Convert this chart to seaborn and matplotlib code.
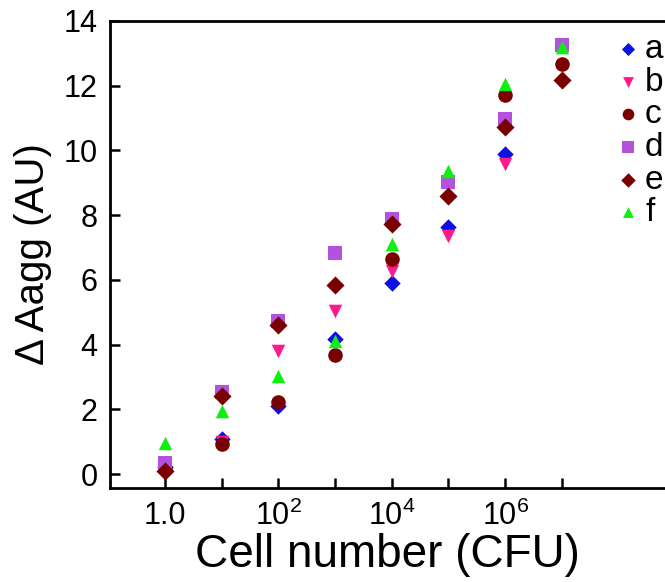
import numpy as np
import pandas as pd
import matplotlib
matplotlib.use("Agg")
import matplotlib.pyplot as plt
import seaborn as sns

# Data (x = cell number, CFU)
cells = [1e0, 1e1, 1e2, 1e3, 1e4, 1e5, 1e6, 1e7]
series_names = ["a", "b", "c", "d", "e", "f"]
a_vals = [0.22, 1.08, 2.09, 4.18, 5.91, 7.62, 9.89, np.nan]
b_vals = [0.05, 1.00, 3.79, 5.03, 6.27, 7.36, 9.58, np.nan]
c_vals = [0.18, 0.92, 2.24, 3.67, 6.64, np.nan, 11.70, 12.66]
d_vals = [0.33, 2.55, 4.72, 6.84, 7.88, 9.03, 10.98, 13.25]
e_vals = [0.10, 2.40, 4.62, 5.84, 7.72, 8.60, 10.72, 12.19]
f_vals = [0.97, 1.95, 3.02, 4.10, 7.10, 9.37, 12.06, 13.20]

colors = ["#0a10e6", "#ff1a8c", "#7a0000", "#b452e0", "#7a0000", "#10f010"]
markers = ["D", "v", "o", "s", "D", "^"]

values = [a_vals, b_vals, c_vals, d_vals, e_vals, f_vals]
rows = []
for name, vals in zip(series_names, values):
    for x, y in zip(cells, vals):
        if not np.isnan(y):
            rows.append({"cells": x, "aagg": y, "series": name})
df = pd.DataFrame(rows)

sns.set_style("ticks")
plt.rcParams["font.family"] = ["Liberation Sans", "DejaVu Sans"]
plt.rcParams["mathtext.fontset"] = "custom"
plt.rcParams["mathtext.rm"] = "Liberation Sans"
plt.rcParams["mathtext.it"] = "Liberation Sans"
for key in ["text.color", "axes.labelcolor", "xtick.color", "ytick.color", "axes.edgecolor"]:
    plt.rcParams[key] = "black"

fig = plt.figure(figsize=(6.65, 5.82), dpi=100)
ax = fig.add_axes([0.1654, 0.1615, 0.8346, 0.8025])

sizes = {"a": 70, "b": 95, "c": 110, "d": 110, "e": 85, "f": 95}
for name, col, mk in zip(series_names, colors, markers):
    sub = df[df["series"] == name]
    sns.scatterplot(
        data=sub, x="cells", y="aagg",
        color=col, marker=mk, s=sizes[name],
        linewidth=0, label=name, ax=ax
    )

ax.set_xscale("log")
ax.set_xlim(10 ** -0.97, 10 ** 8.82)
ax.set_ylim(-0.43, 14.0)

ax.set_xticks(cells)
ax.set_xticklabels(["1.0", "", "$10^2$", "", "$10^4$", "", "$10^6$", ""])
ax.xaxis.set_minor_locator(matplotlib.ticker.NullLocator())
ax.set_yticks(range(0, 15, 2))

ax.tick_params(direction="in", length=7, width=1.8, labelsize=22, pad=9)
for side in ["left", "bottom", "top"]:
    ax.spines[side].set_linewidth(2.0)
ax.spines["right"].set_visible(False)

ax.set_xlabel("Cell number (CFU)", fontsize=33, labelpad=1)
ax.set_ylabel("Δ Aagg (AU)", fontsize=29, labelpad=8)

ax.legend(
    loc="upper left", bbox_to_anchor=(0.889, 1.008), frameon=False,
    fontsize=24, handlelength=0.5, handletextpad=0.25,
    labelspacing=0.05, borderpad=0, markerscale=0.8
)

fig.savefig("out.png", dpi=100)
